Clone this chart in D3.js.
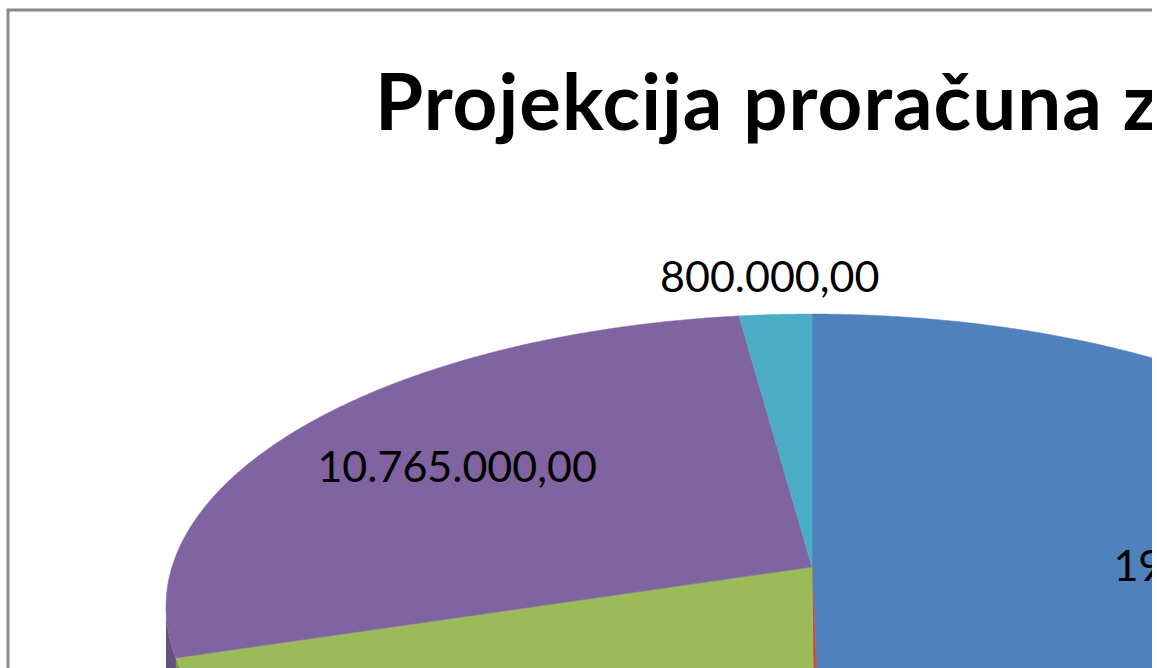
<!DOCTYPE html>
<html>
<head>
<meta charset="utf-8">
<script src="https://cdn.jsdelivr.net/npm/d3@7"></script>
<style>
  body { margin: 0; background: #fff; overflow: hidden; }
  text { font-family: Lato, "Open Sans", sans-serif; }
</style>
</head>
<body>
<svg id="chart"></svg>
<script>
// chart data
const categories = ["Stavka 1", "Stavka 2", "Stavka 3", "Stavka 4", "Stavka 5"];
const values = [19200000, 100000, 7800000, 10765000, 800000];
const colors = ["#4F81BD", "#C0504D", "#9BBB59", "#8064A2", "#4BACC6"];
const titleText = "Projekcija proračuna za";

const width = 1157, height = 668;
const svg = d3.select("#chart").attr("width", width).attr("height", height);

// the picture is a crop of a bigger chart, cut at the right
svg.append("defs").append("clipPath").attr("id", "crop")
  .append("rect").attr("width", 1152).attr("height", height);
const g = svg.append("g").attr("clip-path", "url(#crop)");

// chart frame
g.append("rect")
  .attr("x", 8).attr("y", 10)
  .attr("width", 1500).attr("height", 1000)
  .attr("fill", "#fff")
  .attr("stroke", "#898989")
  .attr("stroke-width", 3);

// title
g.append("text")
  .attr("x", 375).attr("y", 130)
  .attr("font-size", 78)
  .attr("font-weight", 700)
  .attr("letter-spacing", 1)
  .attr("fill", "#000")
  .text(titleText);

// 3d pie seen in perspective
const cx = 812, cy = 567;
const spread = 640, tilt = 0.449, persp = 0.136, depth = 60;

function project(a, r) {
  const u = r * Math.sin(a), v = r * Math.cos(a);
  const w = 1 + persp * v;
  return [cx + spread * u / w, cy - spread * tilt * v / w];
}

const pie = d3.pie().sort(null).value(d => d.value);
const arcs = pie(values.map((v, i) => ({ name: categories[i], value: v, color: colors[i] })));
const line = d3.line();

function rim(a0, a1, r) {
  const n = Math.max(2, Math.ceil((a1 - a0) / 0.005));
  return d3.range(n + 1).map(k => project(a0 + (a1 - a0) * k / n, r));
}

// front wall, only where the rim faces us
const frontFrom = Math.acos(-persp), frontTo = 2 * Math.PI - Math.acos(-persp);
arcs.forEach(d => {
  const a0 = Math.max(d.startAngle, frontFrom), a1 = Math.min(d.endAngle, frontTo);
  if (a1 <= a0) return;
  const top = rim(a0, a1, 1);
  const bottom = top.map(p => [p[0], p[1] + depth]).reverse();
  g.append("path")
    .attr("d", line(top.concat(bottom)) + "Z")
    .attr("fill", d3.color(d.data.color).darker(0.6));
});

// top faces
g.selectAll("path.slice")
  .data(arcs)
  .join("path")
  .attr("class", "slice")
  .attr("d", d => line([project(0, 0)].concat(rim(d.startAngle, d.endAngle, 1))) + "Z")
  .attr("fill", d => d.data.color)
  .attr("stroke", d => d.data.color)
  .attr("stroke-width", 0.5);

// data labels
const fmt = d3.formatLocale({ decimal: ",", thousands: ".", grouping: [3], currency: ["", ""] }).format(",.2f");
const total = d3.sum(values);

g.selectAll("text.label")
  .data(arcs)
  .join("text")
  .attr("class", "label")
  .attr("transform", d => {
    const mid = (d.startAngle + d.endAngle) / 2;
    const r = d.value / total < 0.05 ? 1.18 : 0.69;
    return "translate(" + project(mid, r) + ")";
  })
  .attr("text-anchor", "middle")
  .attr("dominant-baseline", "central")
  .attr("font-size", 43)
  .attr("fill", "#000")
  .text(d => fmt(d.value));
</script>
</body>
</html>
